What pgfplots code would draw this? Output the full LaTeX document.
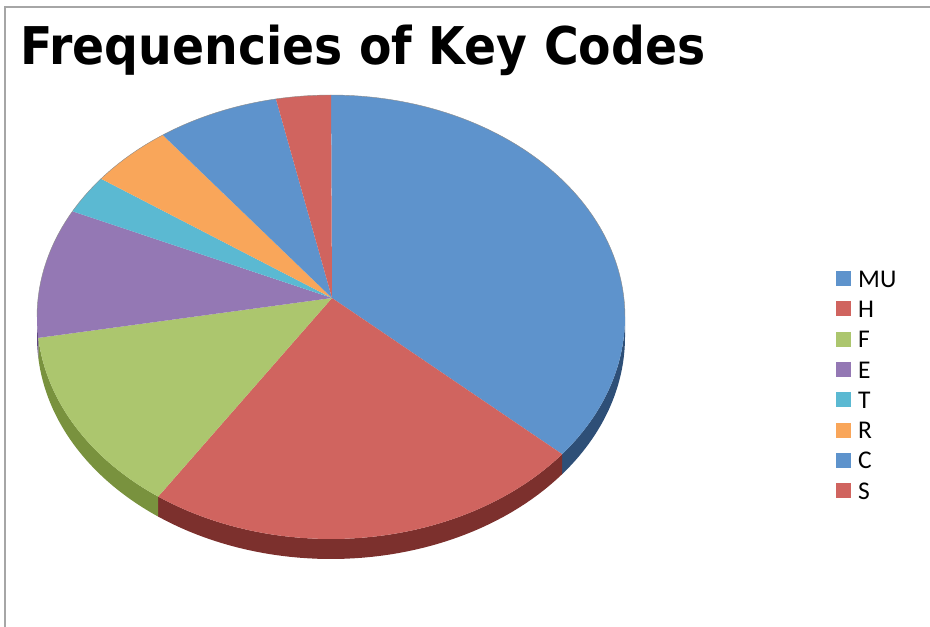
\documentclass[border=0pt]{standalone}
\usepackage{fontspec}
\setmainfont{DejaVu Sans}
\newfontfamily\carlito{Carlito}
\usepackage{graphicx}
\usepackage{pgfplots}
\pgfplotsset{compat=1.18}
\definecolor{cMU}{HTML}{5E93CC}
\definecolor{cH}{HTML}{D0645F}
\definecolor{cF}{HTML}{ACC66E}
\definecolor{cE}{HTML}{9478B4}
\definecolor{cT}{HTML}{5BB9D2}
\definecolor{cR}{HTML}{F9A65A}
\definecolor{cC}{HTML}{5E93CC}
\definecolor{cS}{HTML}{D0645F}
\definecolor{dMU}{HTML}{2E4F77}
\definecolor{dH}{HTML}{7C302D}
\definecolor{dF}{HTML}{79923E}
\definecolor{dE}{HTML}{5E4680}
\definecolor{frame}{HTML}{A6A6A6}
% geometry (pixels)
\def\CX{331}\def\CY{310}\def\RX{294}\def\RY{222}\def\AX{332}\def\AY{329}\def\DEP{20}
% data: share of each key code (percent)
\def\vMU{35.6}\def\vH{24.4}\def\vF{13.5}\def\vE{9.4}\def\vT{2.8}\def\vR{4.6}\def\vC{6.7}\def\vS{3.0}
\pgfmathsetmacro\bA{90}
\pgfmathsetmacro\bB{\bA-3.6*\vMU}
\pgfmathsetmacro\bC{\bB-3.6*\vH}
\pgfmathsetmacro\bD{\bC-3.6*\vF}
\pgfmathsetmacro\bE{\bD-3.6*\vE}
\pgfmathsetmacro\bF{\bE-3.6*\vT}
\pgfmathsetmacro\bG{\bF-3.6*\vR}
\pgfmathsetmacro\bH{\bG-3.6*\vC}
\pgfmathsetmacro\bI{\bH-3.6*\vS}
\newcommand\topslice[4]{%
  \addplot[fill=#3, draw=none, domain=#1:#2, samples=100, variable=\t]
    ({\CX+\RX*cos(\t)},{\CY+\RY*sin(\t)}) -- (\AX,\AY) -- cycle;
  \addlegendentry{#4}}
\newcommand\sideslice[3]{%
  \addplot[fill=#3, draw=none, domain=0:3, samples=151, variable=\s, forget plot]
    ({\CX+\RX*cos( (\s<=1) ? ((#1)+((#2)-(#1))*\s) : ((\s<=2) ? (#2) : ((#2)-((#2)-(#1))*(\s-2))) )},
     {\CY+\RY*sin( (\s<=1) ? ((#1)+((#2)-(#1))*\s) : ((\s<=2) ? (#2) : ((#2)-((#2)-(#1))*(\s-2))) )
       - ((\s<=1) ? 0 : ((\s<=2) ? (\DEP*(\s-1)) : \DEP))});}
\begin{document}
\begin{tikzpicture}
\begin{axis}[
  scale only axis, width=930pt, height=627pt,
  xmin=0, xmax=930, ymin=0, ymax=627,
  axis lines=none, clip=false,
  legend image code/.code={\fill[#1] (0pt,1pt) rectangle (15pt,16pt);},
  legend style={at={(axis cs:836,356)}, anchor=north west, draw=none, fill=none,
    inner sep=0pt, row sep=14.3pt,
    nodes={inner sep=0pt, anchor=base west, text height=16pt, text depth=0pt,
      font=\carlito\fontsize{25.5}{25.5}\selectfont},
    /tikz/every odd column/.append style={column sep=7pt}},
  legend cell align=left,
]
% frame
\draw[frame, line width=1.5pt] (axis cs:5,0) -- (axis cs:5,620) -- (axis cs:930,620);
% sides (front half only)
\sideslice{\bB}{0}{dMU}
\sideslice{\bC}{\bB}{dH}
\sideslice{\bD}{\bC}{dF}
\sideslice{-180}{\bD}{dE}
% top faces
\topslice{\bB}{\bA}{cMU}{MU}
\topslice{\bC}{\bB}{cH}{H}
\topslice{\bD}{\bC}{cF}{F}
\topslice{\bE}{\bD}{cE}{E}
\topslice{\bF}{\bE}{cT}{T}
\topslice{\bG}{\bF}{cR}{R}
\topslice{\bH}{\bG}{cC}{C}
\topslice{\bI}{\bH}{cS}{S}
\addplot[draw=black!45, line width=0.4pt, domain=0:180, samples=100, forget plot]
  ({\CX+\RX*cos(x)},{\CY+\RY*sin(x)});
\node[anchor=base west, inner sep=0pt] at (axis cs:20,562)
  {\scalebox{0.91}[1]{\fontsize{52}{52}\selectfont\bfseries Frequencies of Key Codes}};
\end{axis}
\pgfresetboundingbox
\path (0,0) rectangle (930pt,627pt);
\end{tikzpicture}
\end{document}
